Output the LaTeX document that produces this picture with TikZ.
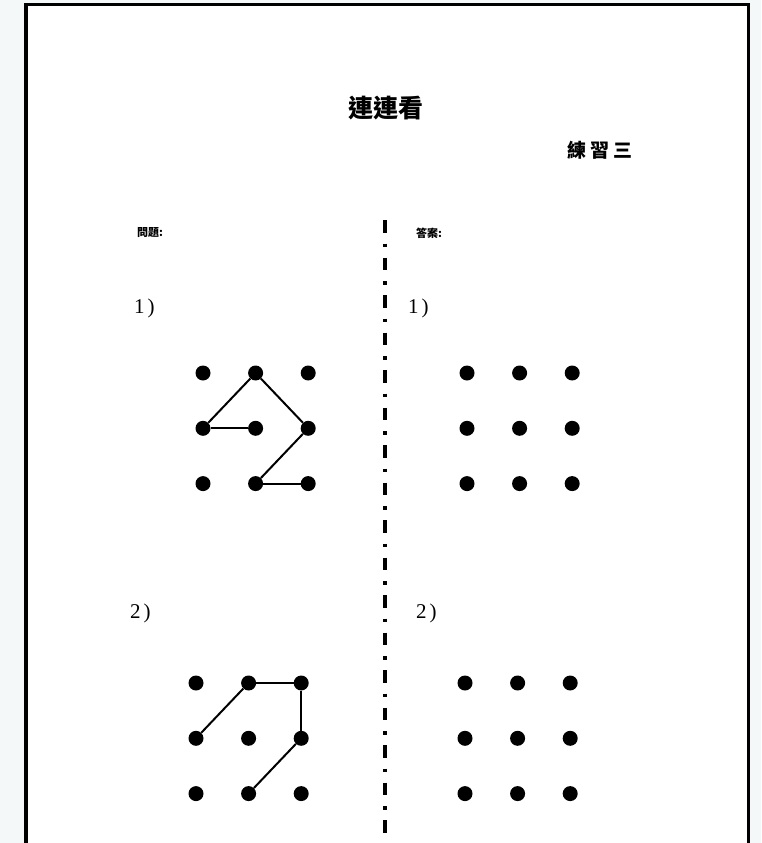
\documentclass[tikz,border=0pt]{standalone}
\usepackage{fontspec}
\newfontfamily\cjk{Noto Sans CJK TC}
\newfontfamily\numfont{Liberation Serif}
\definecolor{outside}{HTML}{F4F8F9}
\tikzset{
  dot/.style={circle,fill=black,inner sep=0pt,minimum size=15pt},
  link/.style={line width=2pt,black},
  frame/.style={line width=3.8pt,black},
  divider/.style={line width=3.2pt,dash pattern=on 12.5pt off 11pt on 3.5pt off 10.5pt},
  num/.style={font=\numfont\fontsize{21}{23}\selectfont,inner sep=0pt,anchor=west},
  label/.style={font=\cjk\bfseries\fontsize{11}{12}\selectfont,inner sep=0pt,anchor=west}
}
\begin{document}
\begin{tikzpicture}[x=1pt,y=-1pt]
\useasboundingbox (0,0) rectangle (761,843);
\fill[outside] (0,0) rectangle (761,843);
\fill[white] (26,4.5) rectangle (748.5,845);
\draw[frame] (26,845) -- (26,4.5) -- (748.5,4.5) -- (748.5,845);

% titles
\node[font=\cjk\bfseries\fontsize{25}{27}\selectfont,inner sep=0pt] (title) at (386,108) {連連看};
\node[font=\cjk\bfseries\fontsize{19}{21}\selectfont,inner sep=0pt,anchor=west] (ex) at (567,150) {練\hspace{4pt}習\hspace{4pt}三};
\node[label] (qlab) at (137,233) {問題:};
\node[label] (alab) at (416,233) {答案:};

% numbers
\node[num] (q1n) at (134,308) {1\kern3pt)};
\node[num] (a1n) at (408,308) {1\kern3pt)};
\node[num] (q2n) at (130,613) {2\kern3pt)};
\node[num] (a2n) at (416,613) {2\kern3pt)};

% divider
\draw[divider] (385,220) -- (385,845);

% dot grids
\foreach \g/\x/\y in {qa/203/373, aa/467/373, qb/196/683, ab/465/683}{
  \foreach \c in {0,1,2}{
    \foreach \r in {0,1,2}{
      \node[dot] (\g-\c-\r) at ({\x+52.6*\c},{\y+55.3*\r}) {};
    }
  }
}

% question 1 lines
\draw[link] (qa-0-1) -- (qa-1-1);
\draw[link] (qa-0-1) -- (qa-1-0);
\draw[link] (qa-1-0) -- (qa-2-1);
\draw[link] (qa-2-1) -- (qa-1-2);
\draw[link] (qa-1-2) -- (qa-2-2);

% question 2 lines
\draw[link] (qb-0-1) -- (qb-1-0);
\draw[link] (qb-1-0) -- (qb-2-0);
\draw[link] (qb-2-0) -- (qb-2-1);
\draw[link] (qb-2-1) -- (qb-1-2);
\end{tikzpicture}
\end{document}
